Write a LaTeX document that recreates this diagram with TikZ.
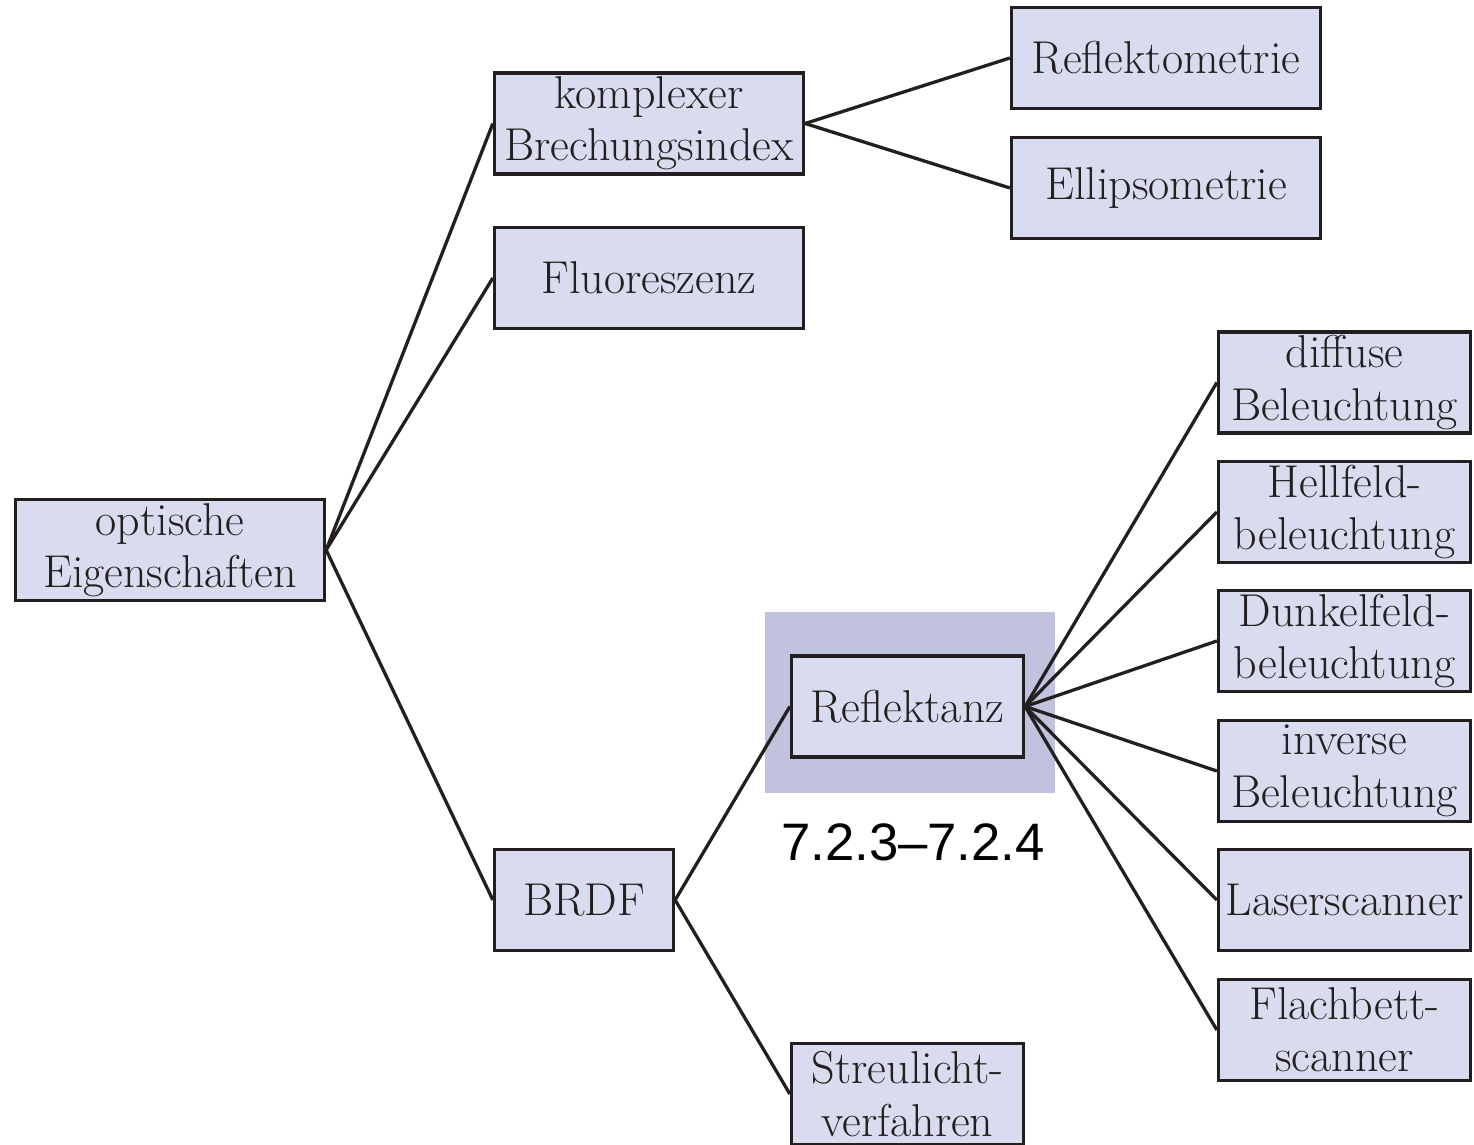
\documentclass[tikz,border=0pt]{standalone}
\usepackage{fontspec}
\newfontfamily\labelfont{Liberation Sans}
\definecolor{boxfill}{HTML}{D9DCEF}
\definecolor{hlfill}{HTML}{C0C2DE}
\definecolor{ink}{HTML}{231F20}
\begin{document}
\begin{tikzpicture}[
  box/.style={draw=ink, fill=boxfill, line width=0.066cm, align=center,
    inner sep=0pt, text=ink, font=\fontsize{26.2}{29.8}\selectfont,
    minimum height=2.02cm},
  wide/.style={box, minimum width=6.18cm},
  mid/.style={box, minimum width=4.64cm},
  right/.style={box, minimum width=5.04cm},
  conn/.style={draw=ink, line width=0.066cm},
  hlbox/.style={fill=hlfill, inner sep=0pt, minimum width=5.8cm, minimum height=3.62cm}
]
\useasboundingbox (0,0) rectangle (29.48,-22.9);
% highlight
\node[hlbox] (hl) at (18.2,-14.05) {};
% nodes
\node[wide] (opt) at (3.40,-11.00) {optische\\Eigenschaften};
\node[wide] (kom) at (12.98,-2.47) {komplexer\\Brechungsindex};
\node[wide] (flu) at (12.98,-5.56) {Fluoreszenz};
\node[box, minimum width=3.58cm] (brdf) at (11.68,-18.00) {BRDF};
\node[wide] (rmet) at (23.32,-1.16) {Reflektometrie};
\node[wide] (ell) at (23.32,-3.76) {Ellipsometrie};
\node[mid] (refl) at (18.15,-14.13) {Reflektanz};
\node[mid] (streu) at (18.15,-21.88) {Streulicht-\\verfahren};
\node[right] (dif) at (26.89,-7.65) {diffuse\\Beleuchtung};
\node[right] (hell) at (26.89,-10.24) {Hellfeld-\\beleuchtung};
\node[right] (dunk) at (26.89,-12.82) {Dunkelfeld-\\beleuchtung};
\node[right] (inv) at (26.89,-15.42) {inverse\\Beleuchtung};
\node[right] (laser) at (26.89,-18.00) {Laserscanner};
\node[right] (flach) at (26.89,-20.60) {Flachbett-\\scanner};
% label
\node[font=\labelfont\fontsize{30}{36}\selectfont, inner sep=0pt] (lab) at (18.26,-16.84) {7.2.3–7.2.4};
% connectors
\draw[conn] (opt.east) -- (kom.west);
\draw[conn] (opt.east) -- (flu.west);
\draw[conn] (opt.east) -- (brdf.west);
\draw[conn] (kom.east) -- (rmet.west);
\draw[conn] (kom.east) -- (ell.west);
\draw[conn] (brdf.east) -- (refl.west);
\draw[conn] (brdf.east) -- (streu.west);
\foreach \t in {dif,hell,dunk,inv,laser,flach}
  \draw[conn] (refl.east) -- (\t.west);
\end{tikzpicture}
\end{document}
